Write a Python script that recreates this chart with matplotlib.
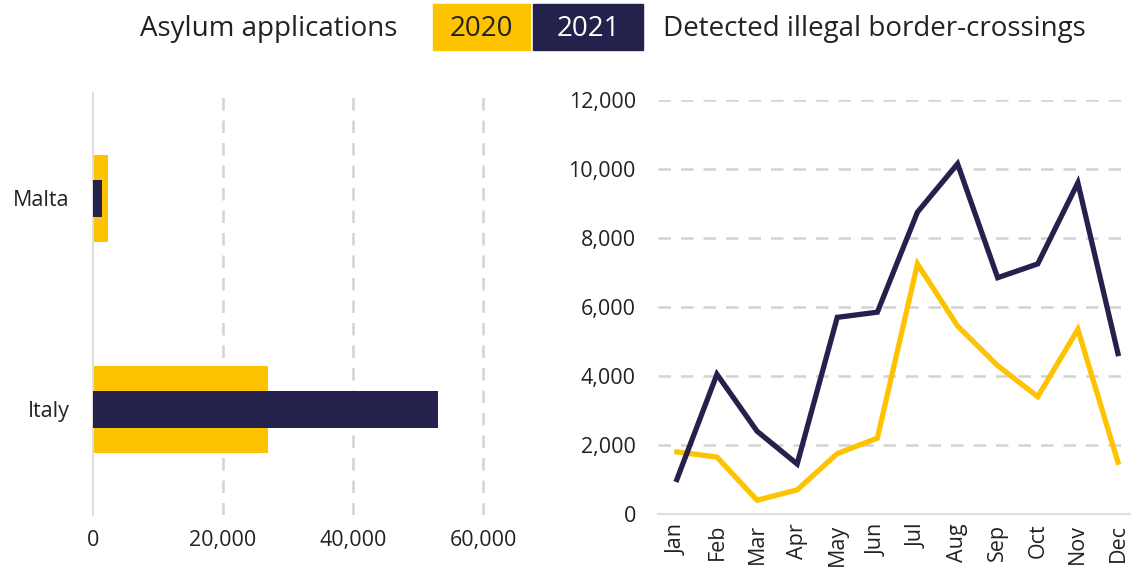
import matplotlib
matplotlib.use("Agg")
import matplotlib.pyplot as plt
from matplotlib.patches import Rectangle
from matplotlib.ticker import FuncFormatter

plt.rcParams['font.family'] = ['Open Sans', 'DejaVu Sans']

# ---- data ----
countries = ["Italy", "Malta"]
asylum_2020 = [26900, 2300]
asylum_2021 = [53100, 1400]

months = ["Jan", "Feb", "Mar", "Apr", "May", "Jun", "Jul", "Aug", "Sep", "Oct", "Nov", "Dec"]
crossings_2020 = [1800, 1650, 400, 700, 1750, 2200, 7250, 5450, 4300, 3400, 5350, 1500]
crossings_2021 = [1000, 4050, 2400, 1450, 5700, 5850, 8750, 10150, 6850, 7250, 9600, 4650]

bar_ticks = [0, 20000, 40000, 60000]
line_ticks = [0, 2000, 4000, 6000, 8000, 10000, 12000]

YELLOW = "#FDC300"
NAVY = "#24224C"
TEXT = "#222222"
GRID = "#D3D3D3"

W, H = 1138, 573
fig = plt.figure(figsize=(W / 100, H / 100), dpi=100)


def px(l, t, r, b):
    return [l / W, 1 - b / H, (r - l) / W, (b - t) / H]


fmt = FuncFormatter(lambda v, p: f"{int(v):,}")
TICK_FS = 15.5
HEAD_FS = 20

# ---- left: horizontal bars ----
ax1 = fig.add_axes(px(93, 93, 530, 515))
ypos = list(range(len(countries)))
ax1.barh(ypos, asylum_2020, height=0.41, color=YELLOW, zorder=2)
ax1.barh(ypos, asylum_2021, height=0.175, color=NAVY, zorder=3)
ax1.set_xlim(0, 67200)
ax1.set_ylim(-0.5, 1.5)
ax1.set_yticks(ypos)
ax1.set_yticklabels(countries)
ax1.set_xticks(bar_ticks)
ax1.xaxis.set_major_formatter(fmt)
for v in bar_ticks[1:]:
    ax1.axvline(v, color=GRID, lw=1.8, ls=(0, (5, 4)), zorder=1)
for s in ["top", "right", "bottom"]:
    ax1.spines[s].set_visible(False)
ax1.spines["left"].set_color("#DDDDDD")
ax1.spines["left"].set_linewidth(1.5)
ax1.tick_params(axis="both", length=0, labelsize=TICK_FS, colors=TEXT)
ax1.tick_params(axis="x", pad=11)
ax1.tick_params(axis="y", pad=17)

# ---- right: lines ----
ax2 = fig.add_axes(px(658, 100, 1130, 514))
x = list(range(len(months)))
ax2.plot(x, crossings_2020, color=YELLOW, lw=3.8, zorder=3, clip_on=False,
         solid_joinstyle="miter")
ax2.plot(x, crossings_2021, color=NAVY, lw=3.8, zorder=4, clip_on=False,
         solid_joinstyle="miter")
ax2.set_xlim(-0.47, 11.3)
ax2.set_ylim(0, 12000)
ax2.set_yticks(line_ticks)
ax2.yaxis.set_major_formatter(fmt)
ax2.set_xticks(x)
ax2.set_xticklabels(months, rotation=90)
for v in line_ticks[1:]:
    ax2.axhline(v, color=GRID, lw=1.8, ls=(0, (5, 4)), zorder=1)
for s in ["top", "right", "left"]:
    ax2.spines[s].set_visible(False)
ax2.spines["bottom"].set_color("#DDDDDD")
ax2.spines["bottom"].set_linewidth(1.5)
ax2.tick_params(axis="both", length=0, labelsize=TICK_FS, colors=TEXT)
ax2.tick_params(axis="y", pad=16)
ax2.tick_params(axis="x", pad=7)

# ---- header legend ----
fig.text(397 / W, 1 - 29 / H, "Asylum applications", ha="right", va="center",
         fontsize=HEAD_FS, color=TEXT)
fig.patches.append(Rectangle((433 / W, 1 - 50 / H), 97 / W, 46 / H,
                             transform=fig.transFigure, color=YELLOW))
fig.patches.append(Rectangle((533 / W, 1 - 50 / H), 110 / W, 46 / H,
                             transform=fig.transFigure, color=NAVY))
fig.text(481 / W, 1 - 29 / H, "2020", ha="center", va="center", fontsize=HEAD_FS, color=TEXT)
fig.text(588 / W, 1 - 29 / H, "2021", ha="center", va="center", fontsize=HEAD_FS, color="white")
fig.text(663 / W, 1 - 29 / H, "Detected illegal border-crossings", ha="left", va="center",
         fontsize=HEAD_FS, color=TEXT)

fig.savefig("out.png", dpi=100, facecolor="white")
